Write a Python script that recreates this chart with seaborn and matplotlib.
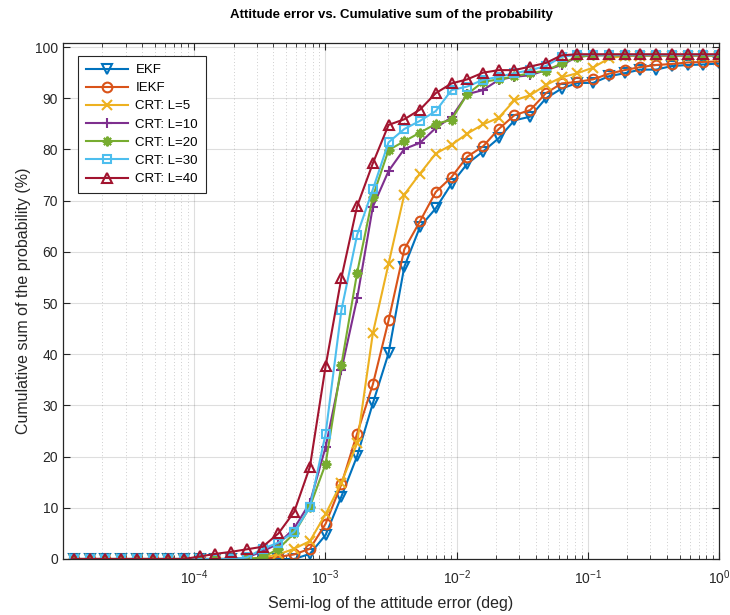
import numpy as np
import pandas as pd
import seaborn as sns
import matplotlib
matplotlib.use("Agg")
import matplotlib.pyplot as plt
from matplotlib.ticker import LogLocator, NullFormatter, FixedLocator, MultipleLocator

# x grid: attitude error (deg), log spaced sample points
err_deg = np.logspace(-4.917, 0, 42)

# cumulative probability (%)
ekf = [0, 0, 0, 0, 0, 0, 0, 0, 0, 0, 0, 0, 0, 0, 0,
       1.0, 4.7, 12.2, 20.1, 30.4, 40.2, 57.1, 64.9, 68.5, 73.3, 77.2, 79.6, 82.2,
       85.7, 86.4, 90.0, 91.9, 93.0, 93.0, 94.3, 94.9, 95.6, 95.6, 96.3, 96.5, 96.6, 96.8]
iekf = [0, 0, 0, 0, 0, 0, 0, 0, 0, 0, 0, 0, 0,
        0.4, 0.9, 2.0, 6.9, 14.6, 24.5, 34.1, 46.6, 60.5, 66.0, 71.7, 74.6, 78.6, 80.6,
        84.0, 86.7, 87.7, 91.0, 92.9, 93.2, 93.7, 94.8, 95.5, 96.1, 96.5, 96.7, 97.0, 97.1, 97.2]
crt_l5 = [0, 0, 0, 0, 0, 0, 0, 0, 0, 0, 0, 0,
          0.3, 0.9, 2.0, 3.5, 8.8, 14.9, 22.6, 44.1, 57.7, 71.2, 75.3, 79.2, 80.9, 83.1,
          84.9, 86.2, 89.6, 90.6, 92.6, 94.1, 94.9, 96.0, 97.8, 98.3, 98.3, 98.3, 98.3,
          98.3, 98.3, 98.3]
crt_l10 = [0, 0, 0, 0, 0, 0, 0, 0, 0, 0, 0,
           0.3, 1.5, 3.0, 6.0, 11.0, 21.9, 36.9, 50.9, 68.8, 75.8, 80.1, 81.3, 84.2, 86.3,
           90.8, 91.6, 93.6, 94.2, 94.5, 95.5, 96.5, 98.1, 98.4, 98.4, 98.4, 98.4, 98.4,
           98.4, 98.4, 98.4, 98.4]
crt_l20 = [0, 0, 0, 0, 0, 0, 0, 0, 0, 0, 0, 0,
           0.3, 2.0, 5.0, 10.2, 18.6, 37.9, 55.9, 70.8, 79.9, 81.6, 83.3, 85.0, 85.8, 90.8,
           93.2, 93.7, 94.3, 94.9, 95.4, 96.8, 98.1, 98.4, 98.4, 98.4, 98.4, 98.4, 98.4,
           98.4, 98.4, 98.4]
crt_l30 = [0, 0, 0, 0, 0, 0, 0, 0, 0, 0, 0,
           0.3, 2.0, 3.2, 5.3, 10.1, 24.5, 48.6, 63.3, 72.2, 81.4, 84.0, 85.6, 87.5, 91.6,
           92.3, 93.6, 94.2, 94.9, 95.5, 96.3, 98.1, 98.5, 98.5, 98.5, 98.5, 98.5, 98.5,
           98.5, 98.5, 98.5, 98.5]
crt_l40 = [0, 0, 0, 0, 0, 0, 0, 0,
           0.5, 1.0, 1.4, 1.9, 2.4, 5.0, 9.2, 18.0, 37.7, 54.9, 68.9, 77.3, 84.8, 85.9,
           87.8, 91.0, 92.9, 93.7, 95.0, 95.5, 95.5, 96.2, 96.9, 98.4, 98.6, 98.6, 98.6,
           98.6, 98.6, 98.6, 98.6, 98.6, 98.6, 98.6]

labels = ["EKF", "IEKF", "CRT: L=5", "CRT: L=10", "CRT: L=20", "CRT: L=30", "CRT: L=40"]
series = [ekf, iekf, crt_l5, crt_l10, crt_l20, crt_l30, crt_l40]
colors = ["#0072BD", "#D95319", "#EDB120", "#7E2F8E", "#77AC30", "#4DBEEE", "#A2142F"]
markers = ["v", "o", "x", "+", (8, 2, 0), "s", "^"]
msizes = [7, 7, 6.5, 7.5, 7, 5.5, 7.5]

plt.rcParams['font.family'] = ['Liberation Sans', 'DejaVu Sans']
plt.rcParams['mathtext.fontset'] = 'custom'
plt.rcParams['mathtext.rm'] = 'Liberation Sans'
plt.rcParams['mathtext.it'] = 'Liberation Sans'

axcol = "#262626"
fig = plt.figure(figsize=(7.3, 6.15), dpi=100)
ax = fig.add_axes([63 / 730, 56 / 615, 656 / 730, 516 / 615])
ax.set_xscale("log")

for name, vals, c, m, ms in zip(labels, series, colors, markers, msizes):
    df = pd.DataFrame({"err": err_deg, "prob": vals})
    sns.lineplot(data=df, x="err", y="prob", ax=ax, color=c, marker=m, markersize=ms,
                 markerfacecolor="none", markeredgecolor=c, markeredgewidth=1.5,
                 linewidth=1.5, label=name)

ax.set_xlim(1e-5, 1)
ax.set_ylim(0, 100.8)
ax.xaxis.set_major_locator(FixedLocator([1e-4, 1e-3, 1e-2, 1e-1, 1]))
ax.xaxis.set_minor_locator(LogLocator(base=10, subs=np.arange(2, 10), numticks=20))
ax.xaxis.set_minor_formatter(NullFormatter())
ax.yaxis.set_major_locator(MultipleLocator(10))

ax.grid(True, which="major", color=axcol, alpha=0.15, linewidth=0.8)
ax.grid(True, which="minor", axis="x", color=axcol, alpha=0.3, linewidth=0.6, linestyle=(0, (1, 3)))
ax.set_axisbelow(True)

ax.tick_params(which="both", direction="in", top=True, right=True, colors=axcol,
               labelsize=10, labelcolor=axcol)
ax.tick_params(which="major", length=5, width=0.8)
ax.tick_params(which="minor", length=3, width=0.6)
ax.tick_params(axis="x", which="major", pad=7)
for sp in ax.spines.values():
    sp.set_color(axcol)
    sp.set_linewidth(0.9)

ax.set_xlabel("Semi-log of the attitude error (deg)", fontsize=11.5, color=axcol, labelpad=6.5)
ax.set_ylabel("Cumulative sum of the probability (%)", fontsize=11.5, color=axcol, labelpad=3)
ax.set_title("Attitude error vs. Cumulative sum of the probability", fontsize=9.5,
             fontweight="bold", color="black", pad=18)

leg = ax.legend(loc="upper left", bbox_to_anchor=(15 / 656, 1 - 13 / 516), fontsize=9.5,
                frameon=True, fancybox=False, edgecolor=axcol, framealpha=1,
                borderaxespad=0, handlelength=3.2, labelspacing=0.45, borderpad=0.6,
                handletextpad=0.55)
leg.get_frame().set_linewidth(0.8)

plt.savefig("out.png", dpi=100)
